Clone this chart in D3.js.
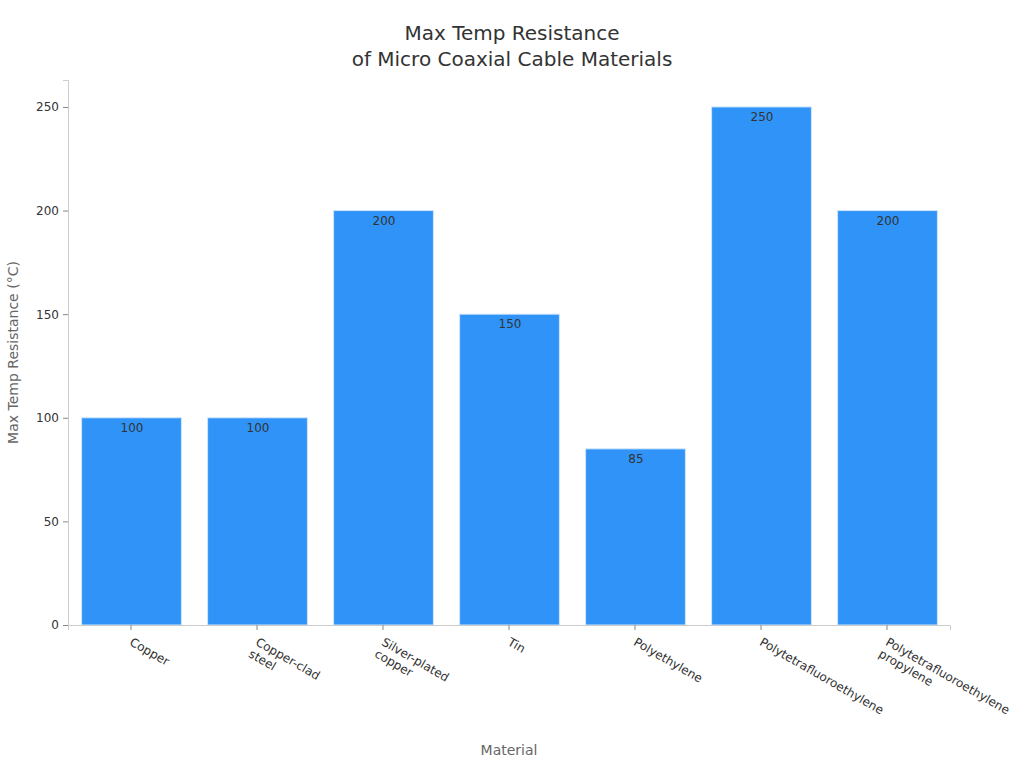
<!DOCTYPE html>
<html>
<head>
<meta charset="utf-8">
<script src="https://cdn.jsdelivr.net/npm/d3@7"></script>
<style>
  body { margin: 0; background: #fff; font-family: "DejaVu Sans", sans-serif; }
</style>
</head>
<body>
<svg id="chart" width="1024" height="768"></svg>
<script>
// data
const materials = [
  ['Copper'],
  ['Copper-clad', 'steel'],
  ['Silver-plated', 'copper'],
  ['Tin'],
  ['Polyethylene'],
  ['Polytetrafluoroethylene'],
  ['Polytetrafluoroethylene', 'propylene']
];
const maxTemp = [100, 100, 200, 150, 85, 250, 200];
const yTicks = [0, 50, 100, 150, 200, 250];

const svg = d3.select('#chart');
const margin = { top: 80, right: 74, bottom: 143, left: 68 };
const width = 1024 - margin.left - margin.right;
const height = 768 - margin.top - margin.bottom;

const g = svg.append('g').attr('transform', `translate(${margin.left},${margin.top})`);

const x = d3.scaleBand()
  .domain(d3.range(materials.length))
  .range([0, width])
  .paddingInner(0.2)
  .paddingOuter(0.1);

const y = d3.scaleLinear().domain([0, 263]).range([height, 0]);

// title
svg.append('text')
  .attr('x', 512).attr('y', 40)
  .attr('text-anchor', 'middle')
  .attr('font-size', 20).attr('fill', '#333')
  .text('Max Temp Resistance');
svg.append('text')
  .attr('x', 512).attr('y', 66)
  .attr('text-anchor', 'middle')
  .attr('font-size', 20).attr('fill', '#333')
  .text('of Micro Coaxial Cable Materials');

// bars
g.selectAll('rect.bar')
  .data(maxTemp)
  .enter()
  .append('rect')
  .attr('class', 'bar')
  .attr('x', (d, i) => x(i) + 1)
  .attr('y', (d) => y(d))
  .attr('width', x.bandwidth() - 1)
  .attr('height', (d) => height - y(d))
  .attr('fill', '#2f93f7')
  .attr('stroke', '#cfe5fc')
  .attr('stroke-width', 1);

// value labels
g.selectAll('text.val')
  .data(maxTemp)
  .enter()
  .append('text')
  .attr('class', 'val')
  .attr('x', (d, i) => x(i) + x.bandwidth() / 2 + 1)
  .attr('y', (d) => y(d) + 14)
  .attr('text-anchor', 'middle')
  .attr('font-size', 12)
  .attr('fill', '#333')
  .text((d) => d);

// y axis
const yAxis = g.append('g')
  .call(d3.axisLeft(y).tickValues(yTicks).tickSize(5).tickPadding(4));
yAxis.select('.domain').attr('stroke', '#ccc');
yAxis.selectAll('.tick line').attr('stroke', '#888');
yAxis.selectAll('.tick text')
  .attr('font-size', 12).attr('fill', '#333')
  .attr('font-family', '"DejaVu Sans", sans-serif');

// x axis
const xAxis = g.append('g')
  .attr('transform', `translate(0,${height})`)
  .call(d3.axisBottom(x).tickSize(5).tickFormat(''));
xAxis.select('.domain').attr('stroke', '#ccc');
xAxis.selectAll('.tick line').attr('stroke', '#888');

// rotated multi-line tick labels
xAxis.selectAll('.tick')
  .append('text')
  .attr('transform', 'translate(2,12) rotate(30)')
  .attr('text-anchor', 'start')
  .attr('font-size', 12)
  .attr('fill', '#333')
  .attr('font-family', '"DejaVu Sans", sans-serif')
  .each(function (i) {
    const t = d3.select(this);
    materials[i].forEach((line, k) => {
      t.append('tspan')
        .attr('x', 0)
        .attr('dy', k === 0 ? '0.71em' : '1.15em')
        .text(line);
    });
  });

// axis titles
svg.append('text')
  .attr('transform', `translate(18,${margin.top + height / 2}) rotate(-90)`)
  .attr('text-anchor', 'middle')
  .attr('font-size', 14)
  .attr('fill', '#666')
  .text('Max Temp Resistance (°C)');

svg.append('text')
  .attr('x', margin.left + width / 2)
  .attr('y', 755)
  .attr('text-anchor', 'middle')
  .attr('font-size', 14)
  .attr('fill', '#666')
  .text('Material');
</script>
</body>
</html>
